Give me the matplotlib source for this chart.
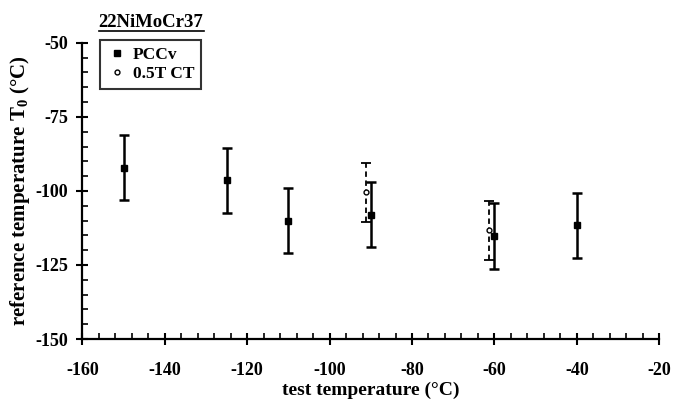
import numpy as np
import matplotlib.pyplot as plt
from matplotlib.ticker import MultipleLocator
from matplotlib.lines import Line2D

# PCCv results: test temperature, T0 and scatter band
pccv_T = [-150, -125, -110, -90, -60, -40]
pccv_T0 = [-92.2, -96.4, -110.0, -108.0, -115.2, -111.6]
pccv_err = [11, 11, 11, 11, 11, 11]

# 0.5T CT results
ct_T = [-91.2, -61.2]
ct_T0 = [-100.4, -113.3]
ct_err = [10, 10]

plt.rcParams['font.family'] = ['Liberation Serif', 'DejaVu Serif']
plt.rcParams['font.weight'] = 'bold'
plt.rcParams['axes.unicode_minus'] = False
plt.rcParams['mathtext.fontset'] = 'custom'
plt.rcParams['mathtext.rm'] = 'Liberation Serif:bold'
plt.rcParams['mathtext.bf'] = 'Liberation Serif:bold'

fig = plt.figure(figsize=(6.81, 4.08), dpi=100)
ax = fig.add_axes([0.121, 0.169, 0.847, 0.726])

ax.errorbar(pccv_T, pccv_T0, yerr=pccv_err, fmt='s', color='black',
            ms=5, elinewidth=1.8, capsize=3.5, capthick=1.8)
eb2 = ax.errorbar(ct_T, ct_T0, yerr=ct_err, fmt='o', color='black', mfc='white',
                  mec='black', ms=3.5, elinewidth=1.3, capsize=3.5, capthick=1.3)
eb2[2][0].set_linestyle((0, (3, 2)))

ax.set_xlim(-160, -20)
ax.set_ylim(-150, -50)
ax.xaxis.set_major_locator(MultipleLocator(20))
ax.xaxis.set_minor_locator(MultipleLocator(4))
ax.yaxis.set_major_locator(MultipleLocator(25))
ax.yaxis.set_minor_locator(MultipleLocator(5))

for s in ['top', 'right']:
    ax.spines[s].set_visible(False)
for s in ['left', 'bottom']:
    ax.spines[s].set_linewidth(1.6)

ax.tick_params(which='major', direction='inout', length=9, width=1.5,
               labelsize=13)
ax.tick_params(axis='x', which='major', pad=12)
ax.tick_params(axis='y', which='major', pad=6)
ax.tick_params(which='minor', direction='in', length=4, width=1.2)
for lab in ax.get_xticklabels() + ax.get_yticklabels():
    lab.set_fontweight('bold')

ax.set_xlabel('test temperature (°C)', fontsize=14, fontweight='bold', labelpad=2)
ax.set_ylabel('reference temperature T$_\\mathrm{0}$ (°C)', fontsize=15,
              fontweight='bold', labelpad=2)

handles = [Line2D([], [], ls='none', marker='s', ms=4, color='black'),
           Line2D([], [], ls='none', marker='o', ms=3.5, mfc='white', mec='black')]
leg = ax.legend(handles, ['PCCv', '0.5T CT'], loc='upper left',
                bbox_to_anchor=(0.03, 1.01), fontsize=12.5,
                frameon=True, fancybox=False, handlelength=1.2, handletextpad=0.3,
                borderpad=0.4, labelspacing=0.15, borderaxespad=0)
leg.get_frame().set_edgecolor('black')
leg.get_frame().set_linewidth(1.5)
for t in leg.get_texts():
    t.set_fontweight('bold')

# underlined material name above the legend
title = fig.text(0.222, 0.933, '22NiMoCr37', fontsize=13.5, fontweight='bold',
                 ha='center', va='baseline')
fig.canvas.draw()
bb = title.get_window_extent().transformed(fig.transFigure.inverted())
fig.add_artist(Line2D([bb.x0, bb.x1], [0.924, 0.924],
                      color='black', lw=1.2, transform=fig.transFigure))

fig.savefig('out.png', dpi=100)
